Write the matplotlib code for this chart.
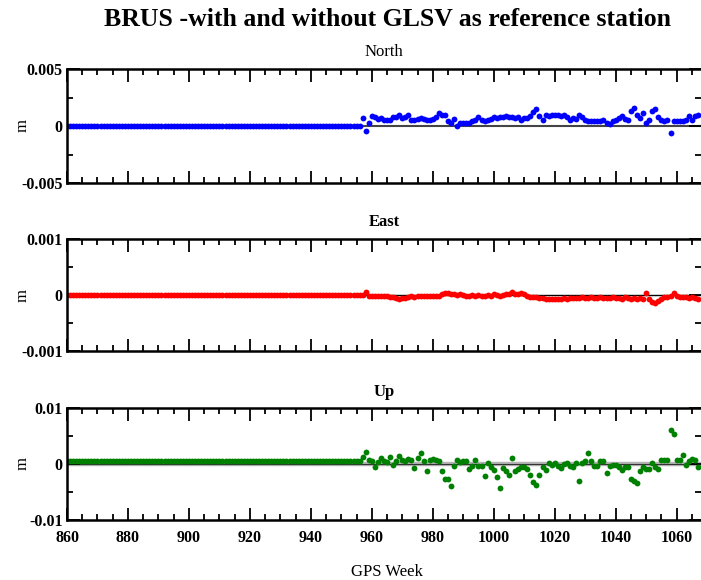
import numpy as np
import matplotlib
matplotlib.use("Agg")
import matplotlib.pyplot as plt
from matplotlib.ticker import MultipleLocator, FixedLocator

plt.rcParams['font.family'] = ['Liberation Serif', 'DejaVu Serif']

# GPS weeks: reference-only period (flat) and the period with GLSV
pre_weeks = np.arange(860, 957)
post_weeks = np.arange(957, 1068)

# flat offsets before week 957 (m)
north_pre = 0.0
east_pre = 0.0
up_pre = 0.0005

# differences after week 957, north/up in mm, east in 0.1 mm
north_mm = [0.7, -0.4, 0.3, 0.9, 0.8, 0.6, 0.7, 0.5, 0.5, 0.5,
            0.8, 0.8, 1.0, 0.7, 0.8, 1.0, 0.5, 0.5, 0.6, 0.7,
            0.6, 0.5, 0.5, 0.6, 0.8, 1.1, 1.0, 1.0, 0.4, 0.3,
            0.6, 0.0, 0.3, 0.3, 0.3, 0.3, 0.4, 0.5, 0.8, 0.5,
            0.4, 0.5, 0.6, 0.8, 0.7, 0.8, 0.8, 0.9, 0.8, 0.8,
            0.7, 0.8, 0.5, 0.7, 0.7, 0.9, 1.2, 1.5, 0.9, 0.5,
            1.0, 0.9, 1.0, 1.0, 1.0, 0.9, 1.0, 0.8, 0.5, 0.7,
            0.6, 1.0, 0.8, 0.5, 0.4, 0.4, 0.4, 0.4, 0.4, 0.5,
            0.3, 0.2, 0.4, 0.5, 0.7, 0.9, 0.6, 0.5, 1.3, 1.6,
            1.0, 0.7, 1.1, 0.3, 0.5, 1.3, 1.5, 0.8, 0.5, 0.4,
            0.5, -0.6, 0.4, 0.4, 0.4, 0.4, 0.5, 0.9, 0.5, 0.9,
            1.0]

east_tenth_mm = [0.0, 0.5, -0.1, -0.2, -0.2, -0.1, -0.2, -0.2, -0.1, -0.3,
                 -0.3, -0.6, -0.7, -0.6, -0.5, -0.3, -0.2, -0.3, -0.2, -0.2,
                 -0.1, -0.2, -0.2, -0.1, -0.2, -0.1, 0.1, 0.3, 0.4, 0.2,
                 0.1, 0.0, 0.1, 0.0, -0.1, -0.1, 0.0, -0.1, 0.0, -0.1,
                 -0.1, 0.0, -0.1, 0.1, 0.0, -0.1, 0.0, 0.1, 0.2, 0.6,
                 0.1, 0.2, 0.4, 0.1, -0.1, -0.3, -0.3, -0.4, -0.5, -0.6,
                 -0.8, -0.7, -0.8, -0.8, -0.7, -0.8, -0.6, -0.7, -0.6, -0.5,
                 -0.6, -0.5, -0.4, -0.6, -0.5, -0.4, -0.5, -0.6, -0.4, -0.5,
                 -0.6, -0.5, -0.4, -0.5, -0.6, -0.7, -0.4, -0.5, -0.8, -0.5,
                 -0.8, -0.6, -0.7, 0.3, -0.8, -1.2, -1.5, -1.0, -0.7, -0.4,
                 -0.3, -0.2, 0.4, -0.1, -0.3, -0.4, -0.4, -0.5, -0.4, -0.6,
                 -0.8]

up_mm = [1.2, 2.1, 0.8, 0.5, -0.5, 0.3, 1.0, 0.6, 0.3, 1.3,
         -0.1, 0.6, 1.4, 0.8, 0.5, 0.9, 0.8, -0.7, 1.0, 1.9,
         0.5, -1.3, 0.8, 0.9, 0.8, 0.5, -1.2, -2.6, -2.7, -4.0,
         -0.4, 0.8, 0.3, 0.6, 0.6, -0.9, -0.4, 0.8, -0.4, -0.4,
         -2.2, 0.1, -0.6, -1.0, -2.4, -4.3, -0.7, -1.3, -1.9, 1.1,
         -1.3, -0.9, -0.6, -0.6, -0.9, -2.0, -3.3, -3.7, -1.9, -0.5,
         -1.0, 0.1, -0.1, 0.2, -0.3, -0.7, 0.0, 0.2, -0.3, -0.5,
         0.2, -3.1, 0.1, 0.6, 2.0, 0.5, -0.4, -0.4, 0.5, 0.6,
         -1.6, -0.3, -0.1, -0.2, -0.6, -1.1, -0.6, -0.6, -2.6, -3.1,
         -3.4, -1.3, -0.6, -0.9, -0.9, 0.2, -0.5, -0.9, 0.8, 0.8,
         0.7, 6.1, 5.4, 0.8, 0.7, 1.6, -0.1, 0.5, 0.9, 0.8,
         -0.5]

x_ticks = [860, 880, 900, 920, 940, 960, 980, 1000, 1020, 1040, 1060]


def panel(fig, rect, name, pre_val, post_vals, color, lim, show_xlabels):
    ax = fig.add_axes(rect)
    weeks = np.concatenate([pre_weeks, post_weeks])
    vals = np.concatenate([np.full(len(pre_weeks), pre_val), post_vals])
    if name == 'Up':
        ax.axhline(0, color='#b4b4b4', lw=3.2, zorder=1)
        ax.axhline(0, color='#333333', lw=0.8, zorder=1)
    elif name == 'North':
        ax.axhline(0, color='#444444', lw=1.5, zorder=1)
    else:
        ax.axhline(0, color='black', lw=1.0, zorder=1)
    ax.plot(weeks, vals, 'o', color=color, ms=4.2, mec='none', zorder=2)

    ax.set_xlim(860, 1068)
    ax.set_ylim(-lim, lim)
    ax.xaxis.set_major_locator(FixedLocator(x_ticks))
    ax.xaxis.set_minor_locator(MultipleLocator(5))
    ax.set_yticks([-lim, 0, lim])
    ax.set_yticklabels([f'{-lim:g}', '0', f'{lim:g}'])
    ax.yaxis.set_minor_locator(FixedLocator([-lim / 2, lim / 2]))
    ax.tick_params(which='both', direction='in', top=True, right=True, width=1.3)
    ax.tick_params(which='major', length=9, labelsize=11.5, pad=3)
    ax.tick_params(axis='x', which='major', pad=7)
    ax.tick_params(which='minor', length=4)
    for lab in ax.get_xticklabels() + ax.get_yticklabels():
        lab.set_fontweight('bold')
    if not show_xlabels:
        ax.tick_params(axis='x', labelbottom=False)
    ax.spines['right'].set_visible(False)
    for s in ('left', 'top', 'bottom'):
        ax.spines[s].set_linewidth(1.8)
    ax.set_title(name, fontsize=12, pad=9,
                 fontweight='normal' if name == 'North' else 'bold')
    # "m" label sits close to the figure's left edge
    ax.set_ylabel('m', fontsize=12)
    ax.yaxis.set_label_coords(-36 / 634, 0.5)
    return ax


fig = plt.figure(figsize=(7.01, 5.8), dpi=100)
left, width = 67 / 701, 634 / 701
H = 580

panel(fig, [left, 1 - 183 / H, width, 114 / H], 'North', north_pre,
      np.array(north_mm) * 1e-3, '#0000ff', 0.005, False)
panel(fig, [left, 1 - 351 / H, width, 112 / H], 'East', east_pre,
      np.array(east_tenth_mm) * 1e-4, '#ff0000', 0.001, False)
panel(fig, [left, 1 - 520 / H, width, 112 / H], 'Up', up_pre,
      np.array(up_mm) * 1e-3, '#008000', 0.01, True)

fig.text(387 / 701, 1 - 20 / H, 'BRUS -with and without GLSV as reference station',
         ha='center', va='center', fontsize=18.5, fontweight='bold')
fig.text(387 / 701, 1 - 572 / H, 'GPS Week', ha='center', va='center', fontsize=12)

fig.savefig('out.png', dpi=100)
